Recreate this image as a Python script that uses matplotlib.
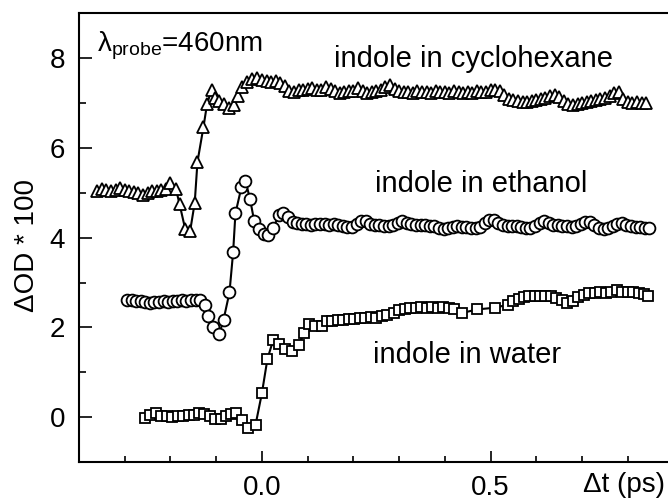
import numpy as np
import matplotlib
matplotlib.use("Agg")
from matplotlib import pyplot as plt

plt.rcParams['font.family'] = ['Liberation Sans', 'DejaVu Sans']
plt.rcParams['mathtext.default'] = 'regular'

# indole in cyclohexane (triangles)
t_cyc = [-0.36, -0.35, -0.34, -0.33, -0.32, -0.31, -0.30, -0.29, -0.28, -0.27,
         -0.26, -0.25, -0.24, -0.23, -0.22, -0.21, -0.200, -0.188, -0.180, -0.168,
         -0.157, -0.147, -0.141, -0.128, -0.120, -0.110, -0.103, -0.093, -0.082, -0.071,
         -0.061, -0.052, -0.043, -0.032, -0.021, -0.011, 0.00,
         0.01, 0.02, 0.03, 0.04, 0.05, 0.06, 0.07, 0.08, 0.09, 0.10,
         0.11, 0.12, 0.13, 0.14, 0.15, 0.16, 0.17, 0.18, 0.19, 0.20,
         0.21, 0.22, 0.23, 0.24, 0.25, 0.26, 0.27, 0.28, 0.29, 0.30,
         0.31, 0.32, 0.33, 0.34, 0.35, 0.36, 0.37, 0.38, 0.39, 0.40,
         0.41, 0.42, 0.43, 0.44, 0.45, 0.46, 0.47, 0.48, 0.49, 0.50,
         0.51, 0.52, 0.53, 0.54, 0.55, 0.56, 0.57, 0.58, 0.59, 0.60,
         0.61, 0.62, 0.63, 0.64, 0.65, 0.66, 0.67, 0.68, 0.69, 0.70,
         0.71, 0.72, 0.73, 0.74, 0.75, 0.76, 0.77, 0.78, 0.79, 0.80,
         0.81, 0.82, 0.83, 0.84]
od_cyc = [5.05, 5.08, 5.06, 5.05, 5.07, 5.10, 5.06, 5.04, 5.02, 5.00,
          4.95, 5.00, 5.03, 5.05, 5.06, 5.08, 5.21, 5.08, 4.74, 4.20,
          4.15, 4.78, 5.69, 6.46, 6.98, 7.30, 7.12, 7.05, 6.98, 6.90,
          6.96, 7.15, 7.35, 7.48, 7.54, 7.55, 7.52,
          7.50, 7.47, 7.49, 7.45, 7.38, 7.26, 7.24, 7.28, 7.30, 7.31,
          7.33, 7.30, 7.28, 7.36, 7.32, 7.26, 7.23, 7.25, 7.27, 7.26,
          7.34, 7.27, 7.22, 7.24, 7.26, 7.30, 7.35, 7.40, 7.32, 7.26,
          7.24, 7.25, 7.23, 7.26, 7.24, 7.25, 7.23, 7.26, 7.24, 7.25,
          7.23, 7.26, 7.24, 7.22, 7.25, 7.23, 7.26, 7.24, 7.25, 7.28,
          7.30, 7.26, 7.18, 7.10, 7.06, 7.04, 7.03, 7.02, 7.05, 7.06,
          7.09, 7.12, 7.15, 7.17, 7.14, 7.05, 6.98, 6.95, 6.98, 7.00,
          7.03, 7.05, 7.07, 7.10, 7.12, 7.16, 7.22, 7.24, 7.10, 7.03,
          7.00, 7.02, 7.01, 7.00]

# indole in ethanol (circles)
t_eth = [-0.295, -0.285, -0.275, -0.265, -0.255, -0.245, -0.235, -0.225, -0.215, -0.205,
         -0.195, -0.185, -0.175, -0.165, -0.155, -0.145, -0.135, -0.124, -0.117, -0.106,
         -0.093, -0.084, -0.071, -0.063, -0.058, -0.045, -0.036, -0.026, -0.017, -0.006,
         0.004, 0.014, 0.025, 0.037, 0.047, 0.057, 0.067, 0.077,
         0.087, 0.097, 0.107, 0.117, 0.127, 0.137, 0.147, 0.157, 0.167, 0.177,
         0.187, 0.197, 0.207, 0.217, 0.227, 0.237, 0.247, 0.257, 0.267, 0.277,
         0.287, 0.297, 0.307, 0.317, 0.327, 0.337, 0.347, 0.357, 0.367, 0.377,
         0.387, 0.397, 0.407, 0.417, 0.427, 0.437, 0.447, 0.457, 0.467, 0.477,
         0.487, 0.497, 0.507, 0.517, 0.527, 0.537, 0.547, 0.557, 0.567, 0.577,
         0.587, 0.597, 0.607, 0.617, 0.627, 0.637, 0.647, 0.657, 0.667, 0.677,
         0.687, 0.697, 0.707, 0.717, 0.727, 0.737, 0.747, 0.757, 0.767, 0.777,
         0.787, 0.797, 0.807, 0.817, 0.827, 0.837, 0.847]
od_eth = [2.62, 2.60, 2.59, 2.58, 2.56, 2.55, 2.57, 2.56, 2.58, 2.57,
          2.59, 2.58, 2.60, 2.59, 2.60, 2.61, 2.60, 2.51, 2.25, 2.02,
          1.86, 2.17, 2.78, 3.68, 4.54, 5.12, 5.26, 4.86, 4.37, 4.19,
          4.08, 4.05, 4.22, 4.50, 4.56, 4.45, 4.36, 4.32,
          4.30, 4.31, 4.29, 4.30, 4.31, 4.30, 4.29, 4.30, 4.28, 4.26,
          4.24, 4.23, 4.30, 4.38, 4.37, 4.31, 4.29, 4.28, 4.27, 4.26,
          4.28, 4.33, 4.37, 4.33, 4.30, 4.29, 4.28, 4.29, 4.27, 4.25,
          4.22, 4.20, 4.22, 4.24, 4.25, 4.24, 4.23, 4.22, 4.21, 4.24,
          4.32, 4.39, 4.40, 4.33, 4.28, 4.27, 4.26, 4.25, 4.23, 4.22,
          4.21, 4.26, 4.33, 4.37, 4.32, 4.29, 4.28, 4.27, 4.25, 4.24,
          4.26, 4.30, 4.35, 4.35, 4.28, 4.22, 4.19, 4.22, 4.26, 4.30,
          4.33, 4.29, 4.26, 4.24, 4.23, 4.22, 4.22]

# indole in water (squares)
t_wat = [-0.255, -0.244, -0.232, -0.220, -0.208, -0.196, -0.184, -0.172, -0.160, -0.148,
         -0.138, -0.126, -0.114, -0.102, -0.090, -0.078, -0.068, -0.056, -0.043, -0.031,
         -0.014, 0.000, 0.012, 0.025, 0.038, 0.051, 0.066, 0.080, 0.092, 0.102,
         0.116, 0.131, 0.142, 0.154, 0.166, 0.178, 0.190, 0.202, 0.214, 0.226,
         0.238, 0.250, 0.262, 0.274, 0.288, 0.300, 0.312, 0.324, 0.336, 0.348,
         0.360, 0.372, 0.384, 0.396, 0.408, 0.420, 0.437, 0.470, 0.510, 0.539,
         0.550, 0.561, 0.572, 0.584, 0.596, 0.608, 0.620, 0.632, 0.644, 0.656,
         0.668, 0.680, 0.692, 0.704, 0.716, 0.728, 0.740, 0.752, 0.764, 0.776,
         0.788, 0.800, 0.812, 0.824, 0.836, 0.845]
od_wat = [-0.02, 0.05, 0.10, 0.03, 0.02, 0.01, 0.02, 0.03, 0.04, 0.05,
          0.09, 0.06, 0.03, -0.03, -0.03, 0.02, 0.07, 0.10, -0.06, -0.24,
          -0.17, 0.54, 1.30, 1.73, 1.62, 1.52, 1.47, 1.60, 1.88, 2.08,
          2.03, 2.03, 2.14, 2.15, 2.17, 2.16, 2.18, 2.19, 2.21, 2.22,
          2.23, 2.22, 2.25, 2.28, 2.32, 2.38, 2.42, 2.44, 2.43, 2.45,
          2.44, 2.46, 2.44, 2.45, 2.43, 2.40, 2.32, 2.40, 2.44, 2.51,
          2.58, 2.64, 2.68, 2.70, 2.69, 2.71, 2.69, 2.70, 2.66, 2.60,
          2.55, 2.58, 2.67, 2.72, 2.76, 2.77, 2.78, 2.76, 2.79, 2.84,
          2.80, 2.78, 2.79, 2.76, 2.74, 2.69]

fig = plt.figure(figsize=(6.68, 4.99), dpi=100)
# right spine sits just past the figure edge, so it is not drawn
ax = fig.add_axes([0.1183, 0.0741, 0.890, 0.8992])

style = dict(color='black', lw=1.5, mfc='white', mec='black', mew=1.3)
ax.plot(t_cyc, od_cyc, marker='^', ms=8, **style)
ax.plot(t_eth, od_eth, marker='o', ms=8.5, **style)
ax.plot(t_wat, od_wat, marker='s', ms=7, **style)

ax.set_xlim(-0.4, 0.9)
ax.set_ylim(-1, 9)
ax.set_xticks([0.0, 0.5])
ax.set_xticklabels(['0.0', '0.5'])
ax.set_xticks(np.arange(-0.3, 0.9, 0.1), minor=True)
ax.set_yticks([0, 2, 4, 6, 8])
ax.set_yticks([1, 3, 5, 7], minor=True)

ax.tick_params(axis='both', which='both', direction='in', width=1.2,
               labelsize=20, top=False, right=False)
ax.tick_params(axis='y', which='major', length=9, pad=10)
ax.tick_params(axis='y', which='minor', length=5)
ax.tick_params(axis='x', which='major', length=8, pad=9)
ax.tick_params(axis='x', which='minor', length=4)
for s in ax.spines.values():
    s.set_linewidth(1.5)

fig.text(27.5 / 668, 1 - 245 / 499, 'ΔOD * 100', rotation=90,
         ha='center', va='center', fontsize=20)
fig.text(583 / 668, 1 - 492 / 499, 'Δt (ps)', ha='left', va='baseline', fontsize=20)

ax.text(-0.36, 8.16, r'$\lambda_{probe}$=460nm', fontsize=20, va='baseline')
ax.text(0.158, 7.80, 'indole in cyclohexane', fontsize=21, va='baseline')
ax.text(0.2476, 5.01, 'indole in ethanol', fontsize=21, va='baseline')
ax.text(0.243, 1.21, 'indole in water', fontsize=21, va='baseline')

fig.savefig('out.png', dpi=100)
